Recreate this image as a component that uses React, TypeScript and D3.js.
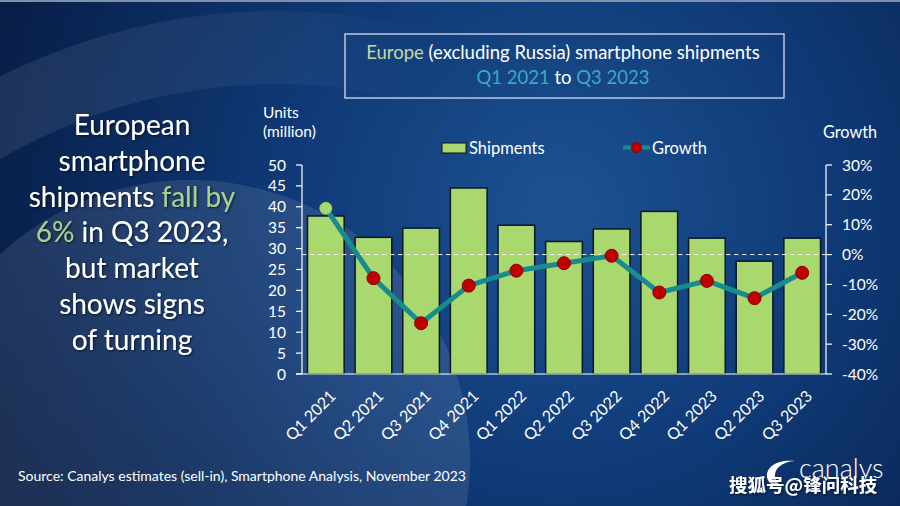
import React from "react";
import * as d3 from "d3";

const quarters = ["Q1 2021", "Q2 2021", "Q3 2021", "Q4 2021", "Q1 2022", "Q2 2022", "Q3 2022", "Q4 2022", "Q1 2023", "Q2 2023", "Q3 2023"];
const shipments = [37.8, 32.7, 34.9, 44.5, 35.6, 31.7, 34.7, 38.9, 32.5, 27.0, 32.5];
const growth = [15.5, -7.9, -23.0, -10.4, -5.4, -2.9, -0.4, -12.7, -8.8, -14.6, -6.1];
const unitTicks = [0, 5, 10, 15, 20, 25, 30, 35, 40, 45, 50];
const growthTicks = [-40, -30, -20, -10, 0, 10, 20, 30];
const headline = [
  [{ t: "European", g: false }],
  [{ t: "smartphone", g: false }],
  [{ t: "shipments ", g: false }, { t: "fall by", g: true }],
  [{ t: "6%", g: true }, { t: " in Q3 2023,", g: false }],
  [{ t: "but market", g: false }],
  [{ t: "shows signs", g: false }],
  [{ t: "of turning", g: false }],
];

const W = 900, H = 506;
const FONT = "Lato, 'Open Sans', sans-serif";
const GREEN = "#a9d86e";
const TEAL = "#178c8e";
const RED = "#c00000";

export default function App() {
  const x0 = 302, x1 = 826, yBottom = 374, yTop = 165;
  const x = d3.scaleBand<string>().domain(quarters).range([x0, x1]).paddingInner(0).paddingOuter(0);
  const step = x.step();
  const barW = step * 0.77;
  const yL = d3.scaleLinear().domain([0, 50]).range([yBottom, yTop]);
  const yR = d3.scaleLinear().domain([-40, 30]).range([yBottom, yTop]);
  const cx = (q: string) => (x(q) as number) + step / 2;
  const line = d3.line<number>().x((_, i) => cx(quarters[i])).y((d) => yR(d));

  return (
    <svg width={W} height={H} style={{ position: "absolute", left: 0, top: 0 }} fontFamily={FONT}>
      <defs>
        <radialGradient id="bg" cx="560" cy="210" r="600" gradientUnits="userSpaceOnUse">
          <stop offset="0" stopColor="#1d5292" />
          <stop offset="0.45" stopColor="#0f3a77" />
          <stop offset="1" stopColor="#081d46" />
        </radialGradient>
        <linearGradient id="ringFade" x1="0" y1="0" x2="420" y2="0" gradientUnits="userSpaceOnUse">
          <stop offset="0" stopColor="#ffffff" stopOpacity="0.09" />
          <stop offset="0.75" stopColor="#ffffff" stopOpacity="0.04" />
          <stop offset="1" stopColor="#ffffff" stopOpacity="0" />
        </linearGradient>
        <radialGradient id="circ" cx="190" cy="460" r="280" gradientUnits="userSpaceOnUse">
          <stop offset="0" stopColor="#ffffff" stopOpacity="0.07" />
          <stop offset="1" stopColor="#ffffff" stopOpacity="0.1" />
        </radialGradient>
        <filter id="shadow" x="-10%" y="-10%" width="120%" height="130%">
          <feDropShadow dx="1.2" dy="1.2" stdDeviation="1" floodColor="#000" floodOpacity="0.6" />
        </filter>
      </defs>

      <rect width={W} height={H} fill="url(#bg)" />
      <path
        d="M 277 631 m -620 0 a 620 620 0 1 0 1240 0 a 620 620 0 1 0 -1240 0 Z M 277 631 m -547 0 a 547 547 0 1 1 1094 0 a 547 547 0 1 1 -1094 0 Z"
        fill="url(#ringFade)"
        fillRule="evenodd"
      />
      <circle cx={190} cy={460} r={280} fill="url(#circ)" />
      <rect x={0} y={0} width={W} height={2} fill="#7f90ad" />

      {/* Title box */}
      <rect x={345} y={34} width={439} height={64} fill="none" stroke="#d8dde8" strokeWidth={1.3} />
      <text x={563} y={59} textAnchor="middle" fontSize={18.5} fill="#fff">
        <tspan fill="#c4d9a0">Europe</tspan>
        <tspan> (excluding Russia) smartphone shipments</tspan>
      </text>
      <text x={563} y={84} textAnchor="middle" fontSize={18.5} fill="#fff">
        <tspan fill="#3fa7c4">Q1 2021</tspan>
        <tspan> to </tspan>
        <tspan fill="#3fa7c4">Q3 2023</tspan>
      </text>

      {/* Headline */}
      <g filter="url(#shadow)">
        {headline.map((ln, i) => (
          <text key={i} x={132} y={135 + i * 35.8} textAnchor="middle" fontSize={28} fill="#fff">
            {ln.map((s, j) => (
              <tspan key={j} fill={s.g ? "#a9d18e" : "#ffffff"}>{s.t}</tspan>
            ))}
          </text>
        ))}
      </g>

      {/* Axis titles */}
      <text x={263} y={118} fontSize={15.5} fill="#fff">Units</text>
      <text x={263} y={137} fontSize={15.5} fill="#fff">(million)</text>
      <text x={823} y={138} fontSize={16.3} fill="#fff">Growth</text>

      {/* Legend */}
      <rect x={442} y={143} width={24} height={10} fill={GREEN} stroke="#111" strokeWidth={1} />
      <text x={469} y={153.5} fontSize={16.5} fill="#fff">Shipments</text>
      <line x1={623} x2={650} y1={147.5} y2={147.5} stroke={TEAL} strokeWidth={4} />
      <circle cx={636.5} cy={147.5} r={5} fill={RED} stroke="#8a0000" strokeWidth={1} />
      <text x={652} y={153.5} fontSize={16.5} fill="#fff">Growth</text>

      {/* Bars */}
      {quarters.map((q, i) => (
        <rect
          key={q}
          x={cx(q) - barW / 2}
          y={yL(shipments[i])}
          width={barW}
          height={yL(0) - yL(shipments[i])}
          fill={GREEN}
          stroke="#0b1526"
          strokeWidth={1.5}
        />
      ))}

      {/* Zero growth line */}
      <line x1={x0} x2={x1} y1={yR(0)} y2={yR(0)} stroke="#ffffff" strokeOpacity={0.9} strokeWidth={1} strokeDasharray="4.5,3.5" />

      {/* Left axis */}
      <line x1={x0} x2={x0} y1={yTop} y2={yBottom} stroke="#fff" strokeWidth={1.2} />
      {unitTicks.map((t) => (
        <g key={t}>
          <line x1={x0 - 6} x2={x0} y1={yL(t)} y2={yL(t)} stroke="#fff" strokeWidth={1.2} />
          <text x={286} y={yL(t)} dy="0.36em" textAnchor="end" fontSize={15.5} fill="#fff">{t}</text>
        </g>
      ))}
      {/* Right axis */}
      <line x1={x1} x2={x1} y1={yTop} y2={yBottom} stroke="#fff" strokeWidth={1.2} />
      {growthTicks.map((t) => (
        <g key={t}>
          <line x1={x1} x2={x1 + 6} y1={yR(t)} y2={yR(t)} stroke="#fff" strokeWidth={1.2} />
          <text x={842} y={yR(t)} dy="0.36em" textAnchor="start" fontSize={15.5} fill="#fff">{t}%</text>
        </g>
      ))}
      {/* Bottom axis */}
      <line x1={x0 - 6} x2={x1} y1={yBottom} y2={yBottom} stroke="#fff" strokeWidth={1.2} />
      {quarters.map((q) => (
        <text
          key={q}
          transform={`translate(${cx(q) + 7},${393}) rotate(-45)`}
          dy="0.36em"
          textAnchor="end"
          fontSize={16}
          fill="#fff"
        >
          {q}
        </text>
      ))}

      {/* Growth line */}
      <path d={line(growth) || ""} fill="none" stroke={TEAL} strokeWidth={5} strokeLinejoin="round" />
      {growth.map((g, i) => (
        <circle
          key={i}
          cx={cx(quarters[i])}
          cy={yR(g)}
          r={i === 0 ? 6 : 6.5}
          fill={i === 0 ? GREEN : RED}
          stroke={i === 0 ? "#9acb5c" : "#8a0000"}
          strokeWidth={1}
        />
      ))}

      {/* Source */}
      <text x={18} y={481} fontSize={14} fill="#fff">
        Source: Canalys estimates (sell-in), Smartphone Analysis, November 2023
      </text>

      {/* Logo */}
      <path
        d="M 795 461 C 777 459, 766 467, 767 477 C 768 484, 775 487, 782 486 C 775 482, 773 475, 777 469 C 781 464, 788 461, 795 461 Z"
        fill="#ffffff"
      />
      <text x={799} y={478} fontSize={27} fontWeight={300} fill="#fff">canalys</text>
      <text x={729} y={492} fontSize={18.5} fontWeight={700} fill="#fff" fontFamily="'Noto Sans CJK SC', sans-serif" filter="url(#shadow)">
        搜狐号@锋问科技
      </text>
    </svg>
  );
}
